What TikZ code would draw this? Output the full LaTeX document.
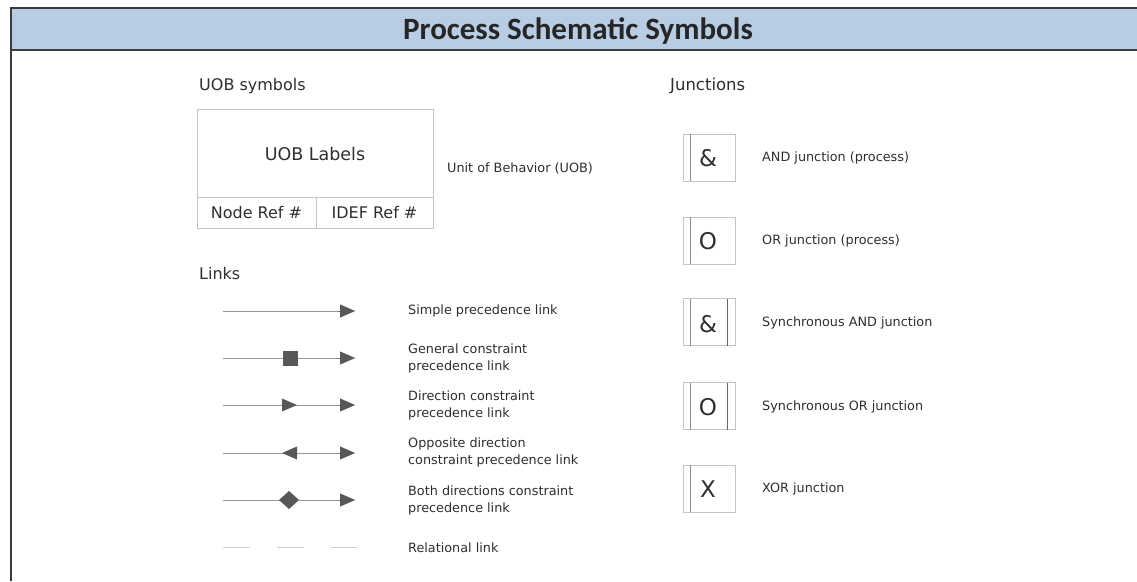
\documentclass[tikz,border=0pt]{standalone}
\usepackage{fontspec}
\setmainfont{DejaVu Sans}
\newfontfamily\titlefont{Carlito}
\usetikzlibrary{arrows.meta}

\definecolor{headfill}{HTML}{B8CCE4}
\definecolor{frame}{HTML}{3A3A3A}
\definecolor{boxline}{HTML}{C4C4C4}
\definecolor{linkline}{HTML}{979797}
\definecolor{markgray}{HTML}{575757}
\definecolor{txt}{HTML}{2E2E2E}

\tikzset{
  heading/.style={anchor=west, inner sep=0pt, text=txt, font=\fontsize{16}{19}\selectfont},
  label/.style={anchor=west, inner sep=0pt, text=txt, align=left, font=\fontsize{12.8}{17}\selectfont},
  link/.style={draw=linkline, line width=0.8pt},
  tip/.style={-{Triangle[length=15pt,width=13pt]}, draw=markgray, fill=markgray, line width=0.1pt},
  marker/.style={fill=markgray, draw=none},
  uob/.style={draw=boxline, line width=0.9pt},
  jbox/.style={draw=boxline, line width=0.9pt, minimum width=52pt, minimum height=47pt, inner sep=0pt},
  jbar/.style={draw=black!45, line width=0.8pt},
  jsym/.style={text=txt, font=\fontsize{23}{23}\selectfont, inner sep=0pt},
}

\begin{document}
\begin{tikzpicture}[x=1pt,y=-1pt]
\useasboundingbox (0,0) rectangle (1137,581);

% header band and frame
\fill[headfill] (11,8) rectangle (1137,50);
\draw[frame, line width=1.3pt] (1137,8) -- (11,8) -- (11,581);
\draw[frame, line width=1.3pt] (11,50) -- (1137,50);
\node[text=black!85, font=\titlefont\bfseries\fontsize{31}{34}\selectfont] (title) at (578,31) {Process Schematic Symbols};

% ---------- UOB symbols ----------
\node[heading] (uobhead) at (199,86) {UOB symbols};
\draw[uob] (197,109) rectangle (433,228);
\draw[uob] (197,197) -- (433,197);
\draw[uob] (316,197) -- (316,228);
\node[text=txt, font=\fontsize{17.5}{20}\selectfont] (uoblab) at (315,154) {UOB Labels};
\node[text=txt, font=\fontsize{16}{19}\selectfont] (noderef) at (256.5,213) {Node Ref \#};
\node[text=txt, font=\fontsize{16}{19}\selectfont] (idefref) at (374.5,213) {IDEF Ref \#};
\node[label] (uobtxt) at (447,168) {Unit of Behavior (UOB)};

% ---------- Links ----------
\node[heading] (linkhead) at (199,274) {Links};

% simple precedence
\coordinate (s1) at (223,311); \coordinate (e1) at (355,311);
\draw[link] (s1) -- (341,311);
\draw[tip] (339,311) -- (e1);
\node[label] (l1) at (408,311) {Simple precedence link};

% general constraint
\coordinate (s2) at (223,358); \coordinate (e2) at (355,358);
\draw[link] (s2) -- (341,358);
\draw[tip] (339,358) -- (e2);
\node[marker, minimum size=15pt, inner sep=0pt] (sq) at (290,358) {};
\node[label] (l2) at (408,358.5) {General constraint\\precedence link};

% direction constraint
\coordinate (s3) at (223,405); \coordinate (e3) at (355,405);
\draw[link] (s3) -- (341,405);
\draw[tip] (339,405) -- (e3);
\fill[markgray] (282,398.5) -- (297,405) -- (282,411.5) -- cycle;
\node[label] (l3) at (408,405.5) {Direction constraint\\precedence link};

% opposite direction constraint
\coordinate (s4) at (223,453); \coordinate (e4) at (355,453);
\draw[link] (s4) -- (341,453);
\draw[tip] (339,453) -- (e4);
\fill[markgray] (297,446.5) -- (282,453) -- (297,459.5) -- cycle;
\node[label] (l4) at (408,452.5) {Opposite direction\\constraint precedence link};

% both directions constraint
\coordinate (s5) at (223,500); \coordinate (e5) at (355,500);
\draw[link] (s5) -- (341,500);
\draw[tip] (339,500) -- (e5);
\fill[markgray] (279,500) -- (289,491) -- (299,500) -- (289,509) -- cycle;
\node[label] (l5) at (408,500.5) {Both directions constraint\\precedence link};

% relational link
\coordinate (s6) at (223,547); \coordinate (e6) at (357,547);
\draw[draw=black!18, line width=0.9pt, dash pattern=on 27pt off 27pt] (s6) -- (e6);
\node[label] (l6) at (408,548) {Relational link};

% ---------- Junctions ----------
\node[heading, font=\fontsize{16.5}{19}\selectfont] (junchead) at (670,86) {Junctions};

% AND junction
\node[jbox] (j1) at (709,157.5) {};
\draw[jbar] (690,134) -- (690,181);
\node[jsym] (j1s) at (708,158) {\&};
\node[label] (j1l) at (762,158) {AND junction (process)};

% OR junction
\node[jbox] (j2) at (709,240.5) {};
\draw[jbar] (690,217) -- (690,264);
\node[jsym] (j2s) at (708,241) {O};
\node[label] (j2l) at (762,241) {OR junction (process)};

% synchronous AND
\node[jbox] (j3) at (709,322) {};
\draw[jbar] (690,298.5) -- (690,345.5);
\draw[jbar, draw=black!60] (727,298.5) -- (727,345.5);
\node[jsym] (j3s) at (708,324) {\&};
\node[label] (j3l) at (762,323) {Synchronous AND junction};

% synchronous OR
\node[jbox] (j4) at (709,406) {};
\draw[jbar] (690,382.5) -- (690,429.5);
\draw[jbar, draw=black!60] (727,382.5) -- (727,429.5);
\node[jsym] (j4s) at (708,407) {O};
\node[label] (j4l) at (762,407) {Synchronous OR junction};

% XOR junction
\node[jbox] (j5) at (709,488.5) {};
\draw[jbar] (690,465) -- (690,512);
\node[jsym] (j5s) at (708,489) {X};
\node[label] (j5l) at (762,489) {XOR junction};

\end{tikzpicture}
\end{document}
